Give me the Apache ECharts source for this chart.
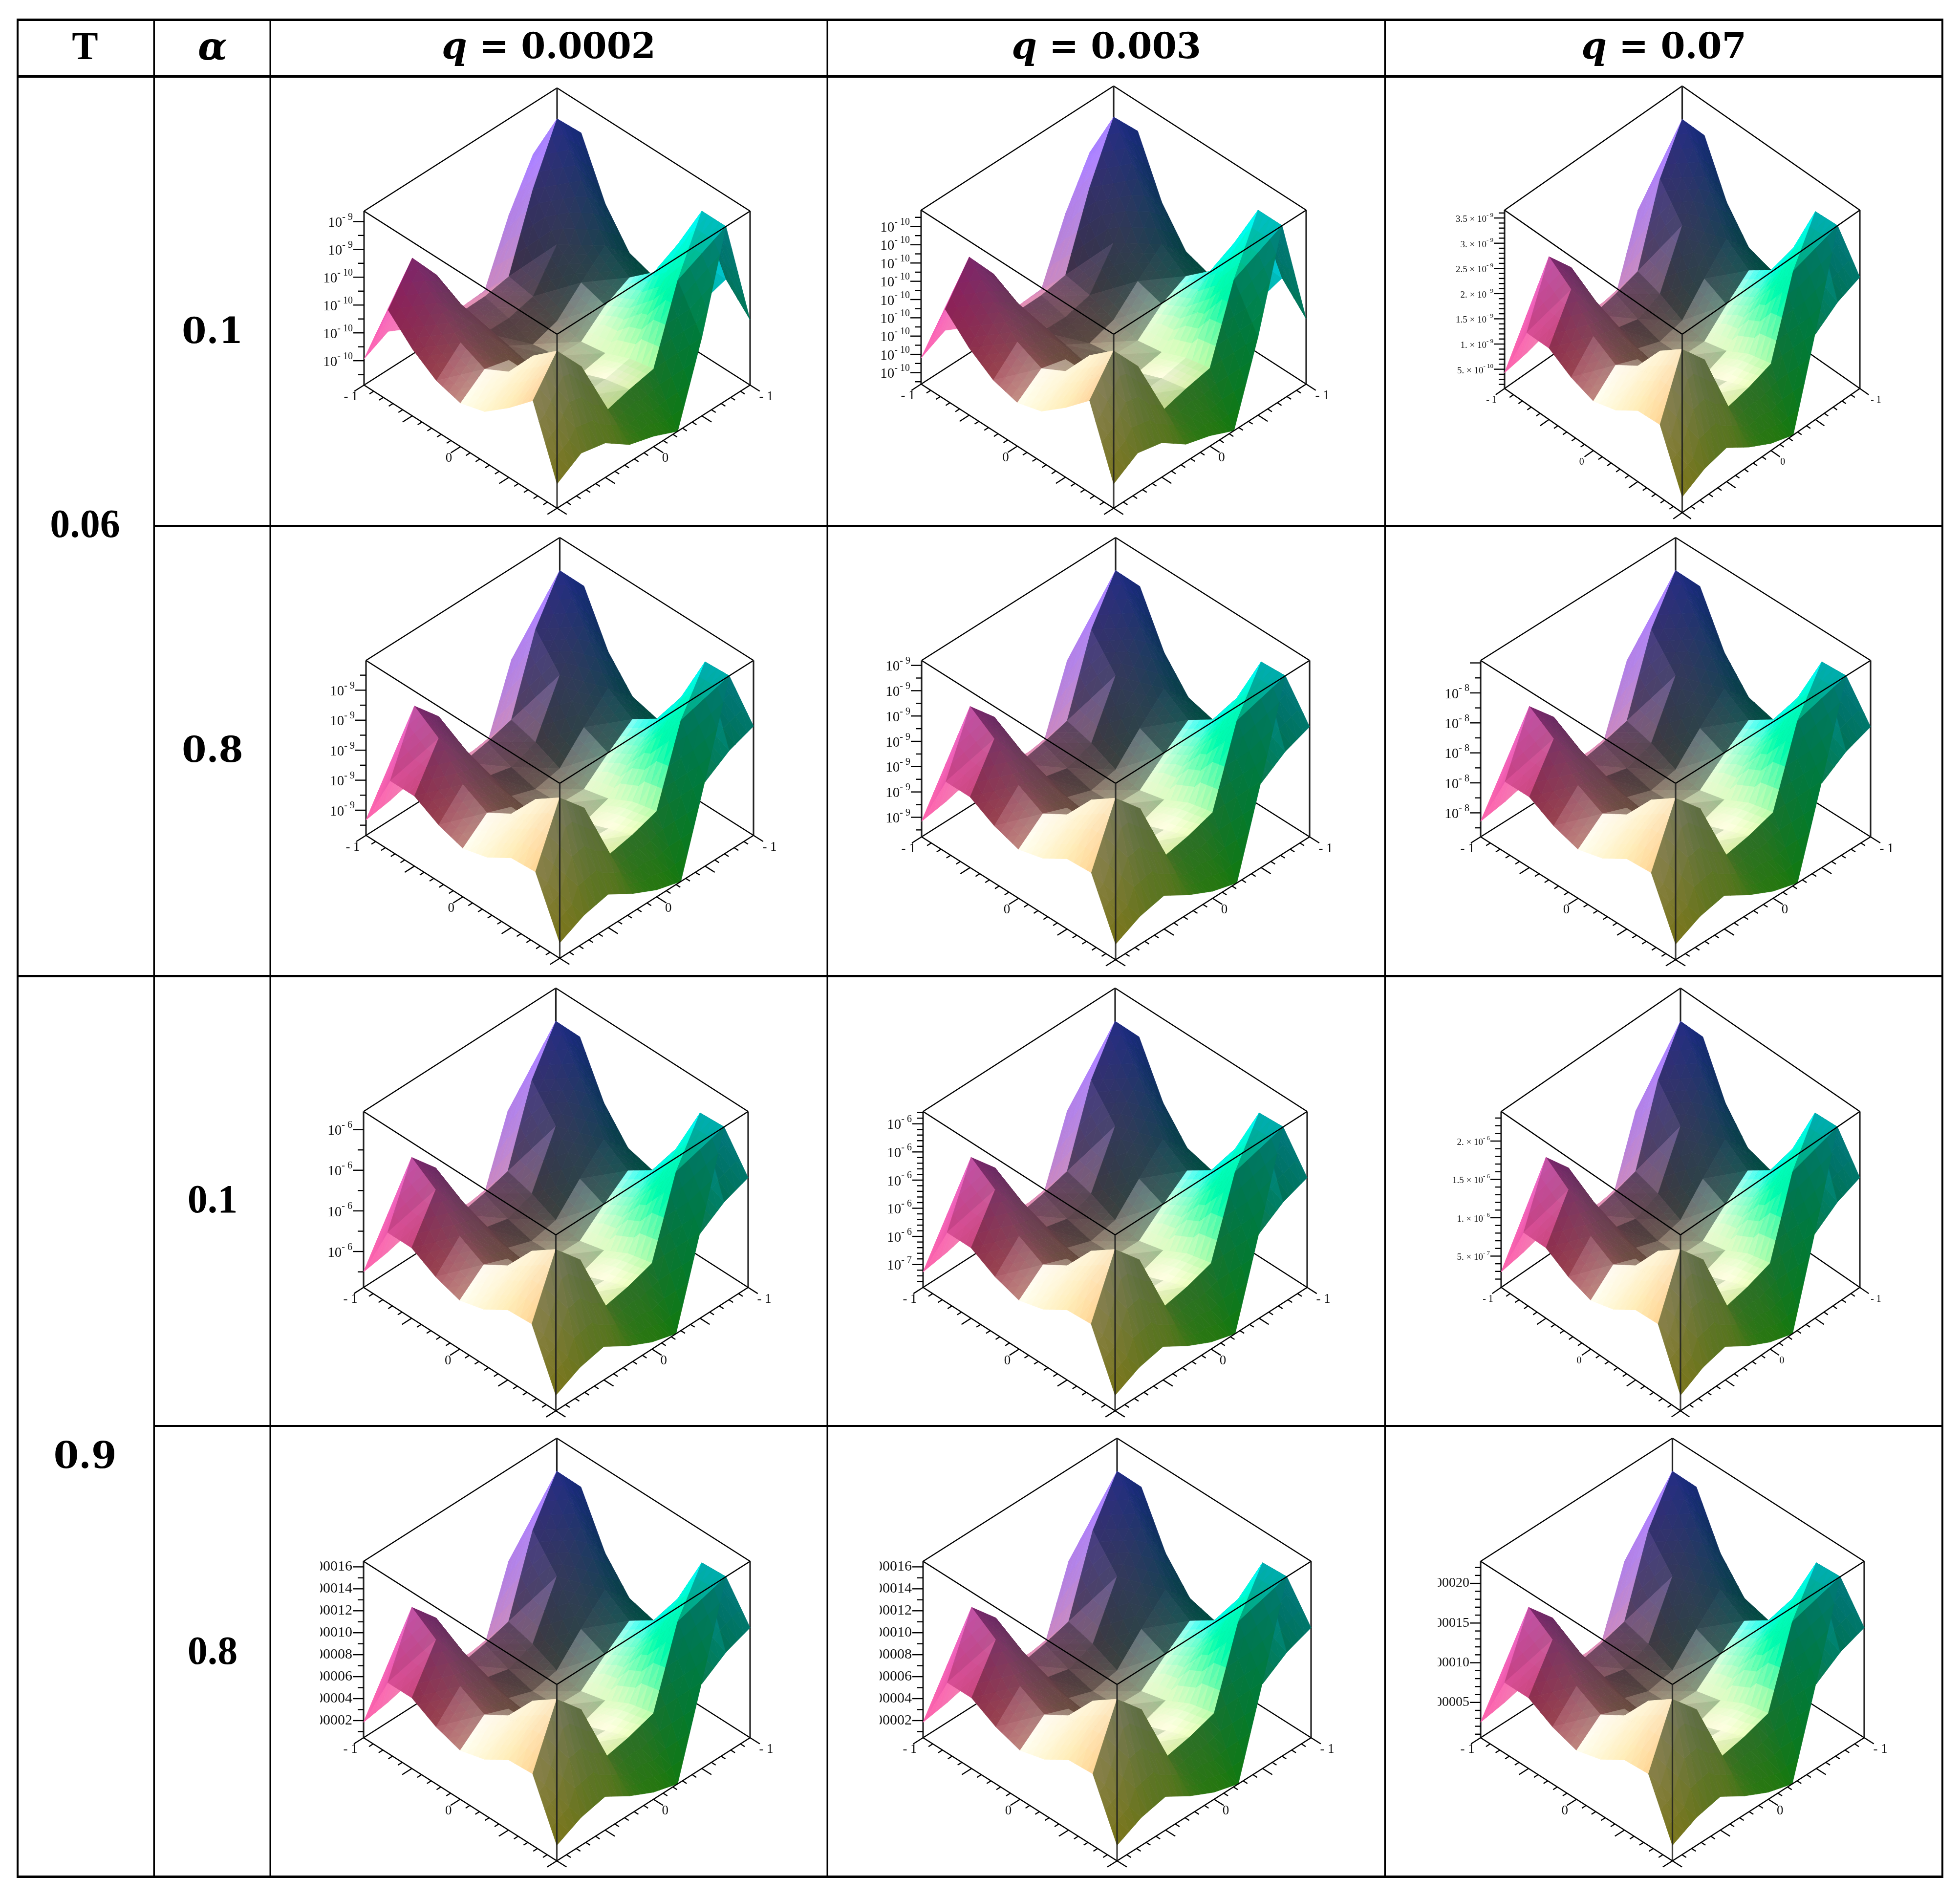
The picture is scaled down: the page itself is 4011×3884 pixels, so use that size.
<!DOCTYPE html>
<html><head><meta charset="utf-8"><style>html,body{margin:0;padding:0;background:#fff}#c{width:4011px;height:3884px}</style>
<script src="https://cdn.jsdelivr.net/npm/echarts@6/dist/echarts.min.js"></script></head>
<body><div id="c"></div><script>
// surface heights as a fraction of the box height; rows: index along the left edge, columns: along the right edge
const SURFACE_A=[
[.14,.228,.198,.10,.06,0,.45,1.0,.375],
[.53,.727,.55,.2,.24,.27,.69,1.0,.52],
[.40,.61,.42,.2,.21,.24,.49,.72,.3],
[.29,.43,.32,.2,.155,.183,.353,.47,.2],
[.25,.357,.32,.19,.167,.16,.28,.352,.27],
[.29,.42,.40,.225,.145,.19,.323,.447,.317],
[.385,.56,.467,.21,.207,.243,.455,.733,.51],
[.52,.73,.545,.24,.243,.27,.683,1.0,.83],
[.15,.22,.15,.1,.09,.1,.445,.705,.6]];
const SURFACE_B=[
[.088,.158,.19,.106,.04,0,.49,1.0,.624],
[.406,.742,.597,.237,.267,.313,.745,.992,.397],
[.398,.645,.45,.22,.213,.28,.56,.70,.13],
[.314,.474,.33,.2,.16,.21,.376,.49,.2],
[.277,.392,.338,.2,.18,.176,.294,.40,.317],
[.323,.466,.42,.224,.176,.206,.354,.49,.355],
[.40,.642,.504,.248,.214,.269,.565,.755,.523],
[.40,.739,.592,.24,.269,.309,.739,.987,.81],
[.088,.112,.15,.1,.085,.083,.475,.594,.6]];
const T_VALUES=['0.06','0.9'];
const ALPHA_VALUES=['0.1','0.8','0.1','0.8'];
const Q_VALUES=['0.0002','0.003','0.07'];
const rep=(s,n)=>Array(n).fill(s);
const LABELS_R1C1=['10|- 9','10|- 9','10|- 10','10|- 10','10|- 10','10|- 10'];
const LABELS_R1C2=rep('10|- 10',9);
const LABELS_R1C3=['3.5 × 10|- 9','3. × 10|- 9','2.5 × 10|- 9','2. × 10|- 9','1.5 × 10|- 9','1. × 10|- 9','5. × 10|- 10'];
const LABELS_R2C1=rep('10|- 9',5);
const LABELS_R2C2=rep('10|- 9',7);
const LABELS_R2C3=rep('10|- 8',5);
const LABELS_R3C1=rep('10|- 6',4);
const LABELS_R3C2=['10|- 6','10|- 6','10|- 6','10|- 6','10|- 6','10|- 7'];
const LABELS_R3C3=['2. × 10|- 6','1.5 × 10|- 6','1. × 10|- 6','5. × 10|- 7'];
const LABELS_R4C1=['.00016','.00014','.00012','.00010','.00008','.00006','.00004','.00002'];
const LABELS_R4C2=LABELS_R4C1;
const LABELS_R4C3=['.00020','.00015','.00010','.00005'];
// layout: [left,right,top,centre,bottom] of each box, z ticks [start,step,subdivisions]
const CELLS=[
{s:SURFACE_A,l:LABELS_R1C1,box:[745,1535,180,684,1040],t:[.14,.16,2],fs:29,cut:0},
{s:SURFACE_A,l:LABELS_R1C2,box:[1885,2673,176,684,1040],t:[.066,.105,2],fs:29,cut:0},
{s:SURFACE_B,l:LABELS_R1C3,box:[3079,3806,176,684,1049],t:[.108,.1413,5],fs:19,cut:0},
{s:SURFACE_B,l:LABELS_R2C1,box:[749,1542,1100,1603,1961],t:[.144,.1715,2],fs:29,cut:0},
{s:SURFACE_B,l:LABELS_R2C2,box:[1886,2680,1100,1603,1964],t:[.111,.1435,2],fs:29,cut:0},
{s:SURFACE_B,l:LABELS_R2C3,box:[3030,3828,1100,1603,1964],t:[.136,.17,2],fs:29,cut:0},
{s:SURFACE_B,l:LABELS_R3C1,box:[744,1531,2022,2527,2887],t:[.204,.231,2],fs:29,cut:0},
{s:SURFACE_B,l:LABELS_R3C2,box:[1889,2675,2022,2527,2887],t:[.13,.16,5],fs:29,cut:0},
{s:SURFACE_B,l:LABELS_R3C3,box:[3072,3806,2022,2527,2887],t:[.178,.218,5],fs:19,cut:0},
{s:SURFACE_B,l:LABELS_R4C1,box:[744,1535,2943,3447,3808],t:[.097,.1245,2],fs:30,cut:655},
{s:SURFACE_B,l:LABELS_R4C2,box:[1889,2683,2943,3447,3808],t:[.097,.1245,2],fs:30,cut:1800},
{s:SURFACE_B,l:LABELS_R4C3,box:[3030,3815,2943,3447,3808],t:[.2,.225,5],fs:28,cut:2942}
];
// colour of unlit and lit faces over the floor of the box
const DARK=[
[[.47,.46,.17],[.35,.46,.15],[.15,.47,.15],[0,.48,.17],[0,.47,.3]],
[[.6,.55,.32],[.4,.4,.18],[.2,.4,.18],[0,.44,.22],[0,.42,.28]],
[[.65,.35,.33],[.42,.3,.24],[.33,.3,.28],[.15,.3,.28],[0,.3,.24]],
[[.55,.18,.27],[.42,.22,.28],[.3,.22,.28],[.2,.22,.26],[.05,.2,.26]],
[[.55,.08,.25],[.42,.1,.28],[.3,.15,.33],[.2,.15,.3],[.13,.13,.3]]];
const LIT=[
[[1,.75,.4],[.95,1,.62],[.85,1,.58],[.5,.95,.5],[.2,1,1]],
[[1,.93,.68],[1,1,.78],[1,1,.92],[.7,1,.6],[.3,1,1]],
[[1,1,.95],[1,.95,.87],[.92,.95,.82],[.9,1,.88],[.6,1,1]],
[[.85,.3,.5],[.9,.52,.6],[.85,.6,.65],[.7,.55,.75],[.6,.55,1]],
[[1,.4,.75],[.95,.5,.75],[.9,.55,.8],[.7,.5,.85],[.62,.5,.95]]];
const SERIF='"Liberation Serif"',MATH='"DejaVu Serif"';
const N=8,SUB=4;

function paletteAt(p,a,b){
  const ia=Math.min(3,Math.floor(a*4)),ib=Math.min(3,Math.floor(b*4)),fa=a*4-ia,f0=b*4-ib,fb=f0*f0*(3-2*f0);
  return [0,1,2].map(k=>(p[ia][ib][k]*(1-fb)+p[ia][ib+1][k]*fb)*(1-fa)+(p[ia+1][ib][k]*(1-fb)+p[ia+1][ib+1][k]*fb)*fa);
}
function shade(a,b,z,t){
  const d=paletteAt(DARK,a,b),l=paletteAt(LIT,a,b);
  const c=[0,1,2].map(k=>d[k]*(1-t)+l[k]*t);
  c[2]+=.35*(z-.3);
  const clamp01=v=>Math.max(0,Math.min(1,v));
  c[0]-=t*Math.max(0,z-.25)*2.2*clamp01((b-.5)*4)*clamp01((.65-a)*5);
  return 'rgb('+c.map(v=>Math.round(255*clamp01(v))).join(',')+')';
}
const measureCtx=document.createElement('canvas').getContext('2d');
function textWidth(s,fs){measureCtx.font=fs+'px '+SERIF;return measureCtx.measureText(s).width;}

const grids=[],xAxes=[],yAxes=[],series=[];
CELLS.forEach((cell,ci)=>{
  const [L,R,T,C,B]=cell.box,h=(B-C)/(B-T),r=(1-h)/2;
  grids.push({left:L,width:R-L,top:T,height:B-T,containLabel:false,show:false});
  xAxes.push({gridIndex:ci,type:'value',min:-1,max:1,show:false});
  yAxes.push({gridIndex:ci,type:'value',min:0,max:1,show:false});
  const pt=(a,b,z)=>[b-a,(a+b)*r+z*h];
  const lineEl=(api,p,q,w,col)=>{
    const A=api.coord(p),E=api.coord(q);
    return {type:'line',shape:{x1:A[0],y1:A[1],x2:E[0],y2:E[1]},style:{stroke:col||'#000',lineWidth:w,lineCap:'butt'}};
  };
  const base={type:'custom',coordinateSystem:'cartesian2d',xAxisIndex:ci,yAxisIndex:ci,clip:false,silent:true,animation:false,progressive:0};
  // back of the box
  const BACK=[[[1,1,1],[1,0,1]],[[1,1,1],[0,1,1]],[[1,1,1],[1,1,0]],[[1,0,0],[1,1,0]],[[0,1,0],[1,1,0]],[[1,0,1],[1,0,0]],[[0,1,1],[0,1,0]]];
  series.push(Object.assign({},base,{z:2,data:BACK.map((e,i)=>[i]),renderItem:(p,api)=>{
    const e=BACK[api.value(0)],vert=e[0][0]===e[1][0]&&e[0][1]===e[1][1];
    return lineEl(api,pt(...e[0]),pt(...e[1]),vert?3.2:2.4,vert?'#222':'#000');
  }}));
  // surface triangles, far to near
  const tris=[];
  for(let sum=2*N-2;sum>=0;sum--)for(let i=0;i<N;i++){const j=sum-i;if(j<0||j>=N)continue;tris.push([i,j,1]);tris.push([i,j,0]);}
  const Z=cell.s,K=4.5;
  const slope=(dj,di)=>(dj<0?2.5*dj:dj)-K*di;
  series.push(Object.assign({},base,{z:3,data:tris,renderItem:(p,api)=>{
    const i=api.value(0),j=api.value(1),far=api.value(2);
    const V=far?[[i+1,j],[i+1,j+1],[i,j+1]]:[[i,j],[i+1,j],[i,j+1]];
    const dj=far?Z[i+1][j+1]-Z[i+1][j]:Z[i][j+1]-Z[i][j];
    const di=far?Z[i+1][j+1]-Z[i][j+1]:Z[i+1][j]-Z[i][j];
    const qj=(Z[i+1][j+1]-Z[i+1][j]+Z[i][j+1]-Z[i][j])/2,qi=(Z[i+1][j+1]-Z[i][j+1]+Z[i+1][j]-Z[i][j])/2;
    const s=.25*slope(dj,di)+.75*slope(qj,qi);
    const t=Math.max(0,Math.min(1,(s+.25)/.45));
    const zz=V.map(v=>Z[v[0]][v[1]]);
    const at=(u,v)=>{const w=1-u-v;return [(w*V[0][0]+u*V[1][0]+v*V[2][0])/N,(w*V[0][1]+u*V[1][1]+v*V[2][1])/N,w*zz[0]+u*zz[1]+v*zz[2]];};
    const children=[];
    const add=(pts)=>{
      const c=pts.map(q=>at(q[0],q[1]));
      const a=(c[0][0]+c[1][0]+c[2][0])/3,b=(c[0][1]+c[1][1]+c[2][1])/3,zm=(c[0][2]+c[1][2]+c[2][2])/3;
      const col=shade(a,b,zm,t);
      children.push({type:'polygon',shape:{points:c.map(q=>api.coord(pt(q[0],q[1],q[2])))},style:{fill:col,stroke:col,lineWidth:.8}});
    };
    for(let u=0;u<SUB;u++)for(let v=0;v<SUB-u;v++){
      add([[u/SUB,v/SUB],[(u+1)/SUB,v/SUB],[u/SUB,(v+1)/SUB]]);
      if(u+v<SUB-1)add([[(u+1)/SUB,v/SUB],[(u+1)/SUB,(v+1)/SUB],[u/SUB,(v+1)/SUB]]);
    }
    return {type:'group',children};
  }}));
  // front of the box
  const FRONT=[[[1,0,1],[0,0,1]],[[0,1,1],[0,0,1]],[[0,0,1],[0,0,0]],[[1,0,0],[0,0,0]],[[0,1,0],[0,0,0]]];
  series.push(Object.assign({},base,{z:4,data:FRONT.map((e,i)=>[i]),renderItem:(p,api)=>{
    const e=FRONT[api.value(0)],vert=e[0][0]===e[1][0]&&e[0][1]===e[1][1];
    return lineEl(api,pt(...e[0]),pt(...e[1]),vert?3.2:2.6,vert?'rgba(30,30,30,.85)':'#000');
  }}));
  // floor ticks: 21 ticks on each of the two front edges
  const floor=[];for(let k=0;k<=20;k++){floor.push([k,0]);floor.push([k,1]);}
  series.push(Object.assign({},base,{z:4,data:floor,renderItem:(p,api)=>{
    const k=api.value(0),side=api.value(1),len=(k%5===0?.05:.022),f=1-k/20;
    return side===0?lineEl(api,pt(f,0,0),pt(f,-len,0),2.4):lineEl(api,pt(0,f,0),pt(-len,f,0),2.4);
  }}));
  // floor labels
  const fs=cell.fs<24?20:27;
  const floorLabels=[[1,0,'- 1',-27,24],[0,1,'- 1',33,24],[.5,0,'0',-24,24],[0,.5,'0',24,24]];
  series.push(Object.assign({},base,{z:5,data:floorLabels.map((e,i)=>[i]),renderItem:(p,api)=>{
    const e=floorLabels[api.value(0)],c=api.coord(pt(e[0],e[1],0));
    return {type:'text',style:{text:e[2],x:c[0]+e[3],y:c[1]+e[4],align:'center',verticalAlign:'middle',font:fs+'px '+SERIF,fill:'#111'}};
  }}));
  // z ticks
  const [zs,zd,sub]=cell.t,zt=[];
  for(let m=-sub;m<=Math.ceil((1-zs)/zd)*sub;m++){const z=zs+m*zd/sub;if(z>0.004&&z<1)zt.push([z,m%sub===0?1:0]);}
  series.push(Object.assign({},base,{z:5,data:zt,renderItem:(p,api)=>{
    const z=api.value(0),maj=api.value(1),c=api.coord(pt(1,0,z));
    const len=maj?22:12;
    return {type:'line',shape:{x1:c[0]-len,y1:c[1],x2:c[0],y2:c[1]},style:{stroke:'#000',lineWidth:2.4}};
  }}));
  // z labels top to bottom
  const labs=cell.l.map((s,i)=>[zs+(cell.l.length-1-i)*zd,i]);
  series.push(Object.assign({},base,{z:5,data:labs,renderItem:(p,api)=>{
    const z=api.value(0),s=cell.l[api.value(1)].split('|'),c=api.coord(pt(1,0,z));
    const ex=c[0]-23,fsz=cell.fs,sup=s[1]||'',sf=Math.round(fsz*.68);
    const sw=sup?textWidth(sup,sf):0;
    const kids=[{type:'text',style:{text:s[0],x:ex-sw,y:c[1]+(sup?3:0),align:'right',verticalAlign:'middle',font:fsz+'px '+SERIF,fill:'#111'}}];
    if(sup)kids.push({type:'text',style:{text:sup,x:ex,y:c[1]-fsz*.3,align:'right',verticalAlign:'middle',font:sf+'px '+SERIF,fill:'#111'}});
    if(cell.cut)kids.push({type:'rect',shape:{x:cell.cut-50,y:c[1]-fsz,width:50,height:fsz*2},style:{fill:'#fff'}});
    return {type:'group',children:kids};
  }}));
});

// table rules and table text
const VX=[315,553,1693,2834];
const rule=(x,y,w,h)=>({type:'rect',shape:{x,y,width:w,height:h},style:{fill:'#000'},silent:true,z:10});
const els=[];
els.push(rule(34,38,3943,5),rule(34,3838,3943,5),rule(34,38,4,3805),rule(3973,38,4,3805));
VX.forEach(x=>els.push(rule(x-1.5,38,3.5,3805)));
els.push(rule(34,154,3943,5),rule(34,1995,3943,4.5));
els.push(rule(315,1074,3662,4),rule(315,2916,3662,4));
const txt=(t,x,y,extra)=>({type:'text',silent:true,z:11,style:Object.assign({text:t,x,y,align:'center',verticalAlign:'middle',fill:'#000'},extra)});
els.push(txt('T',174,100,{font:'bold 80px '+SERIF}));
els.push(txt('α',435,102,{font:'italic bold 78px '+MATH}));
const qx=[1123,2264,3405];
const rich={i:{font:'italic bold 74px '+MATH,fill:'#000'},n:{font:'bold 72px '+MATH,fill:'#000'}};
Q_VALUES.forEach((q,i)=>els.push(txt('{i|q}{n| = '+q+'}',qx[i],100,{rich,font:'bold 72px '+MATH})));
els.push(txt(T_VALUES[0],174,1078,{font:'bold 82px '+SERIF}));
els.push(txt(T_VALUES[1],174,2985,{font:'bold 74px '+MATH}));
const ay=[683,1540,2460,3384];
ALPHA_VALUES.forEach((a,i)=>els.push(txt(a,435,ay[i],{font:(i<2?'bold 72px '+MATH:'bold 82px '+SERIF)})));

const chart=echarts.init(document.getElementById('c'),null,{renderer:'canvas'});
chart.setOption({animation:false,backgroundColor:'#fff',grid:grids,xAxis:xAxes,yAxis:yAxes,series,graphic:{elements:els}});
</script></body></html>
